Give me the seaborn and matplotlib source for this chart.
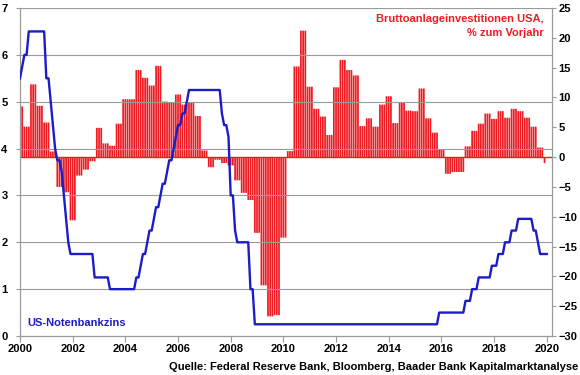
import numpy as np
import pandas as pd
import matplotlib
matplotlib.use('Agg')
import matplotlib.pyplot as plt
import seaborn as sns

# US-Notenbankzins (Fed funds target, % ), monthly, Jan 2000 .. Jan 2020
fed_2000 = [5.5, 5.75, 6.0, 6.0, 6.5, 6.5, 6.5, 6.5, 6.5, 6.5, 6.5, 6.5]
fed_2001 = [5.5, 5.5, 5.0, 4.5, 4.0, 3.75, 3.75, 3.5, 3.0, 2.5, 2.0, 1.75]
fed_2002 = [1.75, 1.75, 1.75, 1.75, 1.75, 1.75, 1.75, 1.75, 1.75, 1.75, 1.25, 1.25]
fed_2003 = [1.25, 1.25, 1.25, 1.25, 1.25, 1.0, 1.0, 1.0, 1.0, 1.0, 1.0, 1.0]
fed_2004 = [1.0, 1.0, 1.0, 1.0, 1.0, 1.25, 1.25, 1.5, 1.75, 1.75, 2.0, 2.25]
fed_2005 = [2.25, 2.5, 2.75, 2.75, 3.0, 3.25, 3.25, 3.5, 3.75, 3.75, 4.0, 4.25]
fed_2006 = [4.5, 4.5, 4.75, 4.75, 5.0, 5.25, 5.25, 5.25, 5.25, 5.25, 5.25, 5.25]
fed_2007 = [5.25, 5.25, 5.25, 5.25, 5.25, 5.25, 5.25, 5.25, 4.75, 4.5, 4.5, 4.25]
fed_2008 = [3.0, 3.0, 2.25, 2.0, 2.0, 2.0, 2.0, 2.0, 2.0, 1.0, 1.0, 0.25]
fed_2009 = [0.25, 0.25, 0.25, 0.25, 0.25, 0.25, 0.25, 0.25, 0.25, 0.25, 0.25, 0.25]
fed_2010 = [0.25, 0.25, 0.25, 0.25, 0.25, 0.25, 0.25, 0.25, 0.25, 0.25, 0.25, 0.25]
fed_2011 = [0.25, 0.25, 0.25, 0.25, 0.25, 0.25, 0.25, 0.25, 0.25, 0.25, 0.25, 0.25]
fed_2012 = [0.25, 0.25, 0.25, 0.25, 0.25, 0.25, 0.25, 0.25, 0.25, 0.25, 0.25, 0.25]
fed_2013 = [0.25, 0.25, 0.25, 0.25, 0.25, 0.25, 0.25, 0.25, 0.25, 0.25, 0.25, 0.25]
fed_2014 = [0.25, 0.25, 0.25, 0.25, 0.25, 0.25, 0.25, 0.25, 0.25, 0.25, 0.25, 0.25]
fed_2015 = [0.25, 0.25, 0.25, 0.25, 0.25, 0.25, 0.25, 0.25, 0.25, 0.25, 0.25, 0.5]
fed_2016 = [0.5, 0.5, 0.5, 0.5, 0.5, 0.5, 0.5, 0.5, 0.5, 0.5, 0.5, 0.75]
fed_2017 = [0.75, 0.75, 1.0, 1.0, 1.0, 1.25, 1.25, 1.25, 1.25, 1.25, 1.25, 1.5]
fed_2018 = [1.5, 1.5, 1.75, 1.75, 1.75, 2.0, 2.0, 2.0, 2.25, 2.25, 2.25, 2.5]
fed_2019 = [2.5, 2.5, 2.5, 2.5, 2.5, 2.5, 2.25, 2.25, 2.0, 1.75, 1.75, 1.75]
fed_2020 = [1.75]

# Bruttoanlageinvestitionen USA, % zum Vorjahr (quarterly values as shown,
# first value covers Jan-Feb 2000, last one Dec 2019, others three months each)
invest = [8.5, 5.1, 12.2, 8.6, 5.8, 0.95, -5.0, -5.9, -10.6, -3.1,
          -2.1, -0.7, 4.9, 2.3, 1.9, 5.6, 9.7, 9.7, 14.6, 13.3,
          12.0, 15.3, 9.3, 9.1, 10.5, 8.8, 9.2, 6.9, 1.1, -1.7,
          -0.45, -1.0, -1.4, -3.9, -6.0, -7.2, -12.7, -21.5, -26.7, -26.5,
          -13.5, 1.0, 15.2, 21.2, 11.8, 8.1, 6.8, 3.7, 11.7, 16.3,
          14.6, 13.7, 5.2, 6.5, 5.1, 8.8, 10.2, 5.7, 9.1, 7.8,
          7.7, 11.5, 6.5, 4.1, 1.3, -2.8, -2.5, -2.5, 1.8, 4.4,
          5.6, 7.3, 6.4, 7.7, 6.6, 8.1, 7.7, 6.6, 5.1, 1.6,
          -1.0]
invest_months = [2] + [3] * 79 + [1]

year_ticks = [2000, 2002, 2004, 2006, 2008, 2010, 2012, 2014, 2016, 2018, 2020]

fed_rate = (fed_2000 + fed_2001 + fed_2002 + fed_2003 + fed_2004 + fed_2005 + fed_2006
            + fed_2007 + fed_2008 + fed_2009 + fed_2010 + fed_2011 + fed_2012 + fed_2013
            + fed_2014 + fed_2015 + fed_2016 + fed_2017 + fed_2018 + fed_2019 + fed_2020)
fed_df = pd.DataFrame({'date': 2000 + np.arange(len(fed_rate)) / 12, 'rate': fed_rate})

inv_monthly = np.repeat(invest, invest_months)
inv_df = pd.DataFrame({'date': np.round(2000 + np.arange(len(inv_monthly)) / 12, 4),
                       'yoy': inv_monthly})

RED = '#ee1c22'
BLUE = '#1c1cc8'
GRAY = '#9a9a9a'

plt.rcParams['font.family'] = ['Liberation Sans', 'DejaVu Sans']
plt.rcParams['font.weight'] = 'bold'

fig = plt.figure(figsize=(5.8, 3.75), dpi=100)
ax = fig.add_axes([20 / 580, 1 - 336 / 375, 532 / 580, 328 / 375])
ax2 = ax.twinx()

# bars on the right axis (one thin bar per month, gives the striped look)
sns.barplot(data=inv_df, x='date', y='yoy', native_scale=True, width=0.8,
            color=RED, saturation=1, linewidth=0, errorbar=None, snap=False, ax=ax2)
ax2.axhline(0, color=RED, lw=1.0, zorder=3)

# line on the left axis, drawn on top of the bars
ax.set_zorder(ax2.get_zorder() + 1)
ax.patch.set_visible(False)
sns.lineplot(data=fed_df, x='date', y='rate', color=BLUE, lw=1.7, ax=ax, zorder=5)

ax.set_xlim(2000, 2020.2)
ax2.set_xlim(2000, 2020.2)
ax.set_ylim(0, 7)
ax2.set_ylim(-30, 25)
ax.set_yticks(range(0, 8))
ax2.set_yticks(range(-30, 26, 5))
ax.set_xticks(year_ticks)
ax.set_xticklabels([str(y) for y in year_ticks])

ax.grid(axis='y', color=GRAY, lw=0.8)
ax.grid(axis='x', visible=False)
ax2.grid(False)
ax.set_xlabel('')
ax.set_ylabel('')
ax2.set_xlabel('')
ax2.set_ylabel('')

for a in [ax, ax2]:
    a.spines['top'].set_visible(False)
    for s in ['left', 'right', 'bottom']:
        a.spines[s].set_color(GRAY)
        a.spines[s].set_linewidth(0.8)

ax.tick_params(axis='y', labelsize=8, length=3, width=0.8, color=GRAY, pad=6)
ax.tick_params(axis='x', labelsize=8, length=4, width=0.8, color=GRAY, pad=2)
ax2.tick_params(axis='y', labelsize=8, length=3, width=0.8, color=GRAY, pad=1.5)
for lab in ax.get_xticklabels() + ax.get_yticklabels() + ax2.get_yticklabels():
    lab.set_fontweight('bold')

fig.text(27.7 / 580, 1 - 322.7 / 375, 'US-Notenbankzins', color=BLUE, fontsize=8,
         fontweight='bold', ha='left', va='center')
fig.text(544 / 580, 1 - 19 / 375, 'Bruttoanlageinvestitionen USA,', color=RED, fontsize=8,
         fontweight='bold', ha='right', va='center')
fig.text(544 / 580, 1 - 33 / 375, '% zum Vorjahr', color=RED, fontsize=8,
         fontweight='bold', ha='right', va='center')
fig.text(578 / 580, 1 - 367 / 375,
         'Quelle: Federal Reserve Bank, Bloomberg, Baader Bank Kapitalmarktanalyse',
         fontsize=8, fontweight='bold', ha='right', va='center')

fig.savefig('out.png', dpi=100)
